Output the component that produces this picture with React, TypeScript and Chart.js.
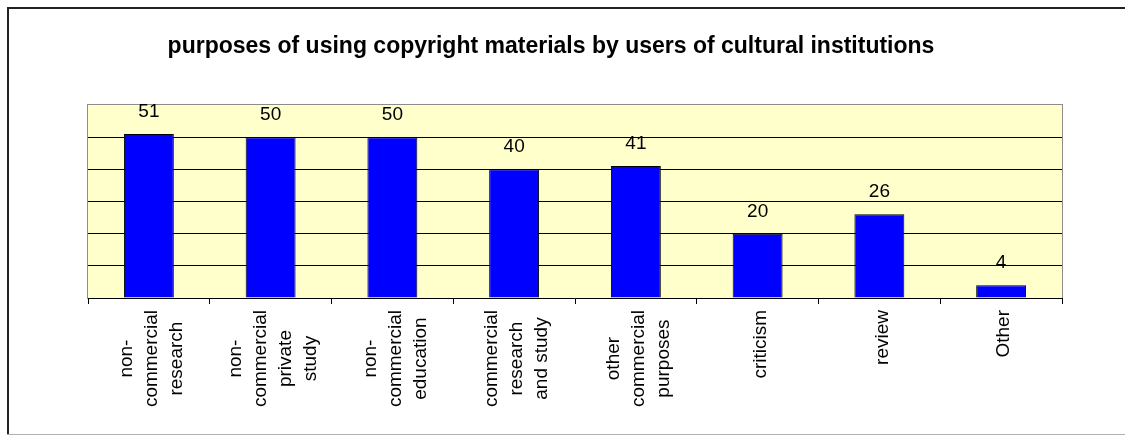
import React, { useEffect, useRef } from "react";
import { Chart, registerables } from "chart.js";

Chart.register(...registerables);

const TITLE = "purposes of using copyright materials by users of cultural institutions";
const CATEGORIES: string[][] = [
  ["non-", "commercial", "research"],
  ["non-", "commercial", "private", "study"],
  ["non-", "commercial", "education"],
  ["commercial", "research", "and study"],
  ["other", "commercial", "purposes"],
  ["criticism"],
  ["review"],
  ["Other"],
];
const VALUES: number[] = [51, 50, 50, 40, 41, 20, 26, 4];
const Y_MAX = 60;
const Y_STEP = 10;

const FONT = '"Liberation Sans", Arial, sans-serif';

const decorPlugin = {
  id: "decor",
  beforeDraw(chart: any) {
    const { ctx, chartArea } = chart;
    const { left, top, right, bottom } = chartArea;
    ctx.save();
    ctx.fillStyle = "#ffffff";
    ctx.fillRect(0, 0, chart.width, chart.height);
    // outer frame
    ctx.fillStyle = "#222222";
    ctx.fillRect(7, 7, chart.width - 7, 2);
    ctx.fillRect(7, 7, 2, chart.height - 9);
    ctx.fillStyle = "#b0b0b0";
    ctx.fillRect(7, chart.height - 2, chart.width - 7, 1);
    // plot background
    ctx.fillStyle = "#FFFFCC";
    ctx.fillRect(left, top, right - left, bottom - top);
    ctx.strokeStyle = "#8c8c8c";
    ctx.lineWidth = 1;
    ctx.strokeRect(left - 0.5, top - 0.5, right - left + 1, bottom - top + 1);
    // title
    ctx.fillStyle = "#000000";
    ctx.font = `bold 23px ${FONT}`;
    ctx.textAlign = "center";
    ctx.textBaseline = "alphabetic";
    ctx.fillText(TITLE, 551, 53);
    ctx.restore();
  },
  afterDatasetsDraw(chart: any) {
    const { ctx } = chart;
    const meta = chart.getDatasetMeta(0);
    const xScale = chart.scales.x;
    ctx.save();
    ctx.fillStyle = "#000000";
    ctx.font = `19px ${FONT}`;
    ctx.textAlign = "center";
    ctx.textBaseline = "alphabetic";
    meta.data.forEach((bar: any, i: number) => {
      ctx.fillText(String(VALUES[i]), bar.x, bar.y - 17);
    });
    // category labels, rotated, lines centered in block
    const axisBottom = xScale.bottom;
    const lineH = 25;
    CATEGORIES.forEach((lines, i) => {
      const cx = xScale.getPixelForValue(i) + 3;
      const maxW = Math.max(...lines.map((l) => ctx.measureText(l).width));
      const cy = axisBottom + 6 + maxW / 2;
      const n = lines.length;
      lines.forEach((line, j) => {
        const off = (j - (n - 1) / 2) * lineH;
        ctx.save();
        ctx.translate(cx + off, cy);
        ctx.rotate(-Math.PI / 2);
        ctx.textBaseline = "middle";
        ctx.fillText(line, 0, 0);
        ctx.restore();
      });
    });
    ctx.restore();
  },
};

export default function App() {
  const ref = useRef<HTMLCanvasElement>(null);
  useEffect(() => {
    if (!ref.current) return;
    const chart = new Chart(ref.current, {
      type: "bar",
      data: {
        labels: CATEGORIES.map((c) => c.join(" ")),
        datasets: [
          {
            data: VALUES,
            backgroundColor: "#0000FF",
            borderColor: "#000000",
            borderWidth: 1,
            barPercentage: 0.41,
            categoryPercentage: 1,
          },
        ],
      },
      options: {
        responsive: false,
        animation: false,
        layout: { padding: { left: 88, right: 63, top: 105, bottom: 132 } },
        plugins: { legend: { display: false }, tooltip: { enabled: false }, title: { display: false } },
        scales: {
          x: {
            ticks: { display: false },
            grid: {
              offset: true,
              drawOnChartArea: false,
              drawTicks: true,
              tickLength: 6,
              color: "#000000",
            },
            border: { display: true, color: "#000000", width: 1 },
            afterFit: (s: any) => {
              s.height = 6;
            },
          },
          y: {
            min: 0,
            max: Y_MAX,
            ticks: { display: false, stepSize: Y_STEP },
            grid: {
              drawTicks: false,
              color: (c: any) => (c.tick && (c.tick.value === Y_MAX || c.tick.value === 0) ? "rgba(0,0,0,0)" : "#000000"),
            },
            border: { display: false },
            afterFit: (s: any) => {
              s.width = 0;
            },
          },
        },
      },
      plugins: [decorPlugin],
    });
    return () => chart.destroy();
  }, []);
  return (
    <div style={{ position: "fixed", left: 0, top: 0, width: 1125, height: 436, background: "#fff" }}>
      <canvas ref={ref} width={1125} height={436} style={{ display: "block" }} />
    </div>
  );
}
